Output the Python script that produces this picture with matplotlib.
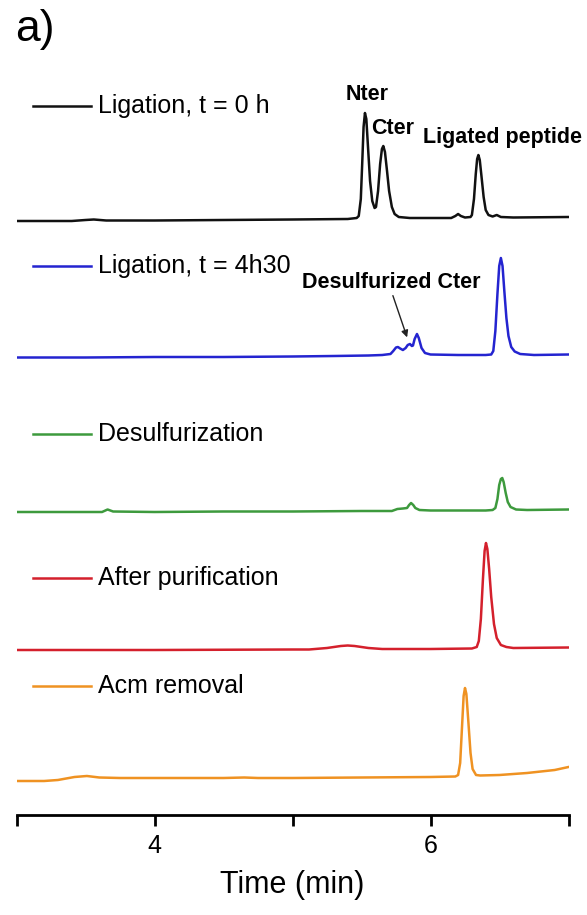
import matplotlib
matplotlib.use('Agg')
import matplotlib.pyplot as plt

plt.rcParams['font.family'] = ['Liberation Sans', 'DejaVu Sans']

# HPLC traces, retention time (min) and signal above each trace's own baseline (a.u.)
t_lig0 = [3.00, 3.40, 3.50, 3.56, 3.65, 4.00, 4.50, 5.00, 5.40, 5.465, 5.48, 5.495, 5.505,
          5.515, 5.525, 5.535, 5.548, 5.562, 5.578, 5.595, 5.605, 5.62, 5.635, 5.648,
          5.658, 5.67, 5.685, 5.70, 5.72, 5.74, 5.77, 5.85, 6.00, 6.15, 6.18, 6.20, 6.22,
          6.25, 6.29, 6.30, 6.315, 6.328, 6.338, 6.347, 6.357, 6.37, 6.385, 6.40, 6.42,
          6.45, 6.48, 6.51, 6.60, 7.00]
a_lig0 = [-2, -2, -1, -0.5, -1.5, -1.5, -1, -0.5, 0, 1, 3, 20, 55,
          92, 106, 100, 70, 38, 18, 11, 12, 28, 55, 70,
          73, 67, 48, 28, 12, 5, 2, 1, 1, 1, 3, 5, 3,
          1.5, 2, 4, 20, 45, 60, 64, 59, 42, 22, 9, 4,
          2.5, 4, 2, 1.5, 2]

t_lig4 = [3.00, 3.50, 4.00, 4.50, 5.00, 5.30, 5.55, 5.65, 5.71, 5.73, 5.75, 5.764, 5.78,
          5.80, 5.82, 5.835, 5.851, 5.865, 5.873, 5.885, 5.902, 5.915, 5.935, 5.96, 6.00,
          6.20, 6.40, 6.44, 6.455, 6.47, 6.485, 6.498, 6.51, 6.522, 6.535, 6.55, 6.565,
          6.585, 6.61, 6.65, 6.75, 7.00]
a_lig4 = [-1.5, -1.5, -1, -1, -0.5, 0, 0.5, 1, 2, 5, 8.5, 9, 7.5,
          6, 8, 11, 12, 10, 10.5, 17, 22, 18, 8, 3, 1.5,
          1, 1, 1.5, 5, 25, 62, 90, 98, 90, 65, 38, 20,
          9, 4.5, 2, 1, 1.5]

t_desulf = [3.00, 3.50, 3.62, 3.66, 3.70, 4.00, 4.50, 5.00, 5.50, 5.72, 5.76, 5.80, 5.83,
            5.845, 5.859, 5.875, 5.89, 5.92, 6.00, 6.40, 6.45, 6.47, 6.485, 6.498, 6.51,
            6.52, 6.53, 6.545, 6.56, 6.58, 6.62, 6.70, 7.00]
a_desulf = [-1, -1, -1, 1.5, -0.5, -1, -0.5, -0.5, 0, 0, 2, 2.5, 3,
            6, 8, 6, 3, 1, 0.5, 0.5, 1, 3, 12, 26, 32,
            33, 29, 18, 9, 4, 1.5, 1, 1.5]

t_purif = [3.00, 4.00, 5.00, 5.12, 5.25, 5.35, 5.40, 5.45, 5.55, 5.65, 6.00, 6.30, 6.335,
           6.35, 6.365, 6.38, 6.392, 6.402, 6.412, 6.425, 6.44, 6.46, 6.48, 6.51, 6.55,
           6.60, 7.00]
a_purif = [-1, -1, -0.5, -0.5, 1, 3, 3.5, 3, 1, 0, 0, 0.5, 2,
           8, 30, 70, 98, 106, 100, 80, 52, 25, 11, 4, 2,
           1, 1.5]

t_acm = [3.00, 3.20, 3.30, 3.42, 3.51, 3.60, 3.75, 4.00, 4.50, 4.65, 4.75, 5.00, 5.50,
         6.00, 6.18, 6.20, 6.215, 6.228, 6.24, 6.25, 6.26, 6.275, 6.29, 6.305, 6.33,
         6.36, 6.50, 6.70, 6.90, 7.00]
a_acm = [-3, -3, -2, 1, 2, 0.5, 0, 0, 0, 0.5, 0, 0, 0.5,
         1, 1.5, 3, 15, 50, 82, 90, 84, 55, 25, 9, 3,
         2.5, 3, 5, 8, 11]

labels = ['Ligation, t = 0 h', 'Ligation, t = 4h30', 'Desulfurization',
          'After purification', 'Acm removal']
colors = ['#111111', '#2424d0', '#3d9a3d', '#d4202c', '#ef9222']
times = [t_lig0, t_lig4, t_desulf, t_purif, t_acm]
signals = [a_lig0, a_lig4, a_desulf, a_purif, a_acm]

# vertical stacking of the traces and of their key entries
offsets = [596, 459, 304, 166, 37]
key_y = [709, 549, 381, 237, 129]

fig = plt.figure(figsize=(5.87, 9.15), dpi=100)
ax = fig.add_axes([16.5/587, 100/915, 552/587, 815/915])

for t, a, off, col, lab, ky in zip(times, signals, offsets, colors, labels, key_y):
    ax.plot(t, [v + off for v in a], color=col, lw=1.8, solid_joinstyle='round')
    ax.plot([3.12, 3.54], [ky, ky], color=col, lw=1.8)
    ax.text(3.59, ky, lab, fontsize=18, va='center', ha='left')

# peak annotations
bold = dict(fontsize=15.5, fontweight='bold', va='center')
ax.text(5.54, 720, 'Nter', ha='center', **bold)
ax.text(5.728, 687, 'Cter', ha='center', **bold)
ax.text(5.946, 677, 'Ligated peptide', ha='left', **bold)
ax.text(5.069, 533, 'Desulfurized Cter', ha='left', **bold)
ax.annotate('', xy=(5.837, 475), xytext=(5.721, 522),
            arrowprops=dict(arrowstyle='-|>', color='#222222', lw=1, mutation_scale=10))

ax.set_xlim(3, 7)
ax.set_ylim(0, 815)
ax.set_xticks([3, 4, 5, 6, 7])
ax.set_xticklabels(['', '4', '', '6', ''])
ax.set_yticks([])
for key in ['left', 'right', 'top']:
    ax.spines[key].set_visible(False)
ax.spines['bottom'].set_linewidth(2)
ax.tick_params(axis='x', direction='out', length=8, width=2, labelsize=18, pad=6)
ax.set_xlabel('Time (min)', fontsize=22, labelpad=8)

fig.text(15/587, 1 - 30/915, 'a)', fontsize=32, ha='left', va='center')

fig.savefig('out.png', dpi=100)
